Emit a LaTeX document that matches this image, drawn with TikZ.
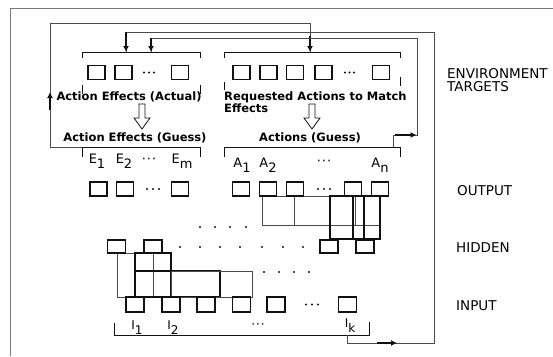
\documentclass[tikz,border=0pt]{standalone}
\usepackage{fontspec}
\setmainfont{DejaVu Sans}
\usetikzlibrary{arrows.meta,positioning,calc,decorations.markings}
\definecolor{plotInk}{HTML}{111111}
\definecolor{plotGrey}{HTML}{4A4A4A}
\definecolor{plotFrame}{HTML}{7A7A7A}
\newcommand{\lsub}[1]{\raisebox{-0.42em}{#1}}
\newcommand{\feedtip}[1]{\draw[line width=1.8pt,plotInk,-{Latex[length=6pt,width=6pt]}] (-#1,0) -- (0,0);}

\begin{document}
\begin{tikzpicture}[x=1pt,y=-1pt,
  unit/.style={draw=plotInk,line width=1.4pt,minimum width=17pt,minimum height=14pt,inner sep=0pt},
  lbl/.style={font=\bfseries\fontsize{11.5}{9}\selectfont,inner sep=0pt},
  sym/.style={font=\fontsize{13}{13}\selectfont,inner sep=0pt,anchor=base},
  side/.style={font=\fontsize{13.5}{12.5}\selectfont,inner sep=0pt,anchor=west,align=left},
  brk/.style={draw=plotInk,line width=0.8pt},
  wire/.style={draw=plotGrey,line width=0.8pt},
  field/.style={draw=plotGrey,line width=0.8pt},
  fieldb/.style={draw=plotInk,line width=1.3pt},
  blip/.style={circle,fill=plotInk,inner sep=0pt,minimum size=2.2pt},
  feed/.style n args={3}{postaction={decorate,decoration={markings,
      mark=at position #1 with {\feedtip{#2}},
      mark=at position 1 with {\feedtip{#3}}}}},
  hollowdown/.pic={\draw[plotInk,line width=0.8pt,fill=white]
      (-3,0) -- (3,0) -- (3,14) -- (8,14) -- (0,25) -- (-8,14) -- (-3,14) -- cycle;}]
\useasboundingbox (0,0) rectangle (553,356);

% frame
\draw[draw=plotFrame,line width=0.8pt] (553,8) -- (10,8) -- (10,356);

% environment targets
\foreach \n/\x in {1/96.5,2/123.5,m/180}
  \node[unit] (ea\n) at (\x,72.5) {};
\foreach \n/\x in {1/241.5,2/268.5,3/295,4/323.5,n/381}
  \node[unit] (ra\n) at (\x,72.5) {};
\foreach \x [count=\i] in {144,149,154}
  \node[blip] (eaDot\i) at (\x,72.5) {};
\foreach \x [count=\i] in {345,349.5,354}
  \node[blip] (raDot\i) at (\x,72.5) {};
\draw[brk] (82,58) -- (82,52) -- (200,52) -- (200,58) (82,85) -- (82,94) (200,85) -- (200,94);
\draw[brk] (224,58) -- (224,52) -- (400,52) -- (400,58) (224,82) -- (224,90) (400,77) -- (400,86);
\node[lbl] (eaLbl) at (129,97) {Action Effects (Actual)};
\node[lbl,anchor=north west,align=left] (raLbl) at (224,92) {Requested Actions to Match\\[-1pt]Effects};
\pic at (142,104) {hollowdown};
\pic at (312,104) {hollowdown};
\node[lbl] (egLbl) at (135,138) {Action Effects (Guess)};
\node[lbl] (agLbl) at (310,138) {Actions (Guess)};
\draw[brk] (82,157) -- (82,147) -- (200,147) -- (200,157);
\draw[brk] (224,157) -- (224,147) -- (400,147) -- (400,157);

% output symbols
\node[sym] (lE1) at (97,163) {E\lsub{1}};
\node[sym] (lE2) at (124,163) {E\lsub{2}};
\node[sym] (lEd) at (149,163) {·\kern1pt·\kern1pt·};
\node[sym] (lEm) at (182,163) {E\lsub{m}};
\node[sym] (lA1) at (242,167) {A\lsub{1}};
\node[sym] (lA2) at (268,167) {A\lsub{2}};
\node[sym] (lAd) at (324,165) {·\kern1pt·\kern1pt·};
\node[sym] (lAn) at (380,167) {A\lsub{n}};

% receptive fields
\draw[field] (262,196) rectangle (355,225);
\draw[field] (294,196) rectangle (380,225);
\draw[fieldb] (330,196) rectangle (364,239);
\draw[fieldb] (353,196) rectangle (380,239);
\draw[field] (117,253) rectangle (153,297);
\draw[fieldb] (135,253) rectangle (171,297);
\draw[fieldb] (135,271) rectangle (220,297);
\draw[field] (171,271) rectangle (252,297);

% output layer
\foreach \n/\x in {e1/98.5,e2/125,em/180,a1/241,a2/268,a3/295,a4/353,an/380}
  \node[unit] (out\n) at (\x,189) {};
\foreach \x [count=\i] in {147,153,159,318,324,330}
  \node[blip] (outDot\i) at (\x,189) {};

% hidden layer
\foreach \n/\x in {1/116.5,2/153,3/329,4/365}
  \node[unit,minimum width=18pt,minimum height=13pt] (hid\n) at (\x,246.5) {};
\foreach \x [count=\i] in {180,200,220,240,262,283,303}
  \node[blip] (hidDot\i) at (\x,247) {};
\foreach \x [count=\i] in {200,215,230,246}
  \node[blip] (upDot\i) at (\x,227) {};
\foreach \x [count=\i] in {264,279,294,309}
  \node[blip] (loDot\i) at (\x,272) {};

% input layer
\foreach \n/\x in {1/135,2/171,3/206,4/241.5,5/276,k/347.5}
  \node[unit,minimum width=18pt,minimum height=15pt] (in\n) at (\x,304.5) {};
\foreach \x [count=\i] in {306,312,318}
  \node[blip] (inDot\i) at (\x,304.5) {};
\node[sym,font=\fontsize{12}{12}\selectfont] (lI1) at (137,329) {I\lsub{1}};
\node[sym,font=\fontsize{12}{12}\selectfont] (lI2) at (173,329) {I\lsub{2}};
\node[sym,font=\fontsize{12}{12}\selectfont] (lId) at (258,328) {·\kern1pt·\kern1pt·};
\node[sym,font=\fontsize{12}{12}\selectfont] (lIk) at (350,327) {I\lsub{k}};
\draw[brk] (114,323) -- (114,335) -- (369,335) -- (369,322);

% side labels
\node[side] (envLbl) at (447,80) {ENVIRONMENT\\TARGETS};
\node[side] (outLbl) at (457,191) {OUTPUT};
\node[side] (hidLbl) at (456,248) {HIDDEN};
\node[side] (inLbl) at (456,306) {INPUT};

% feedback wires
\coordinate (egL) at (82,147);
\coordinate (loopL) at (50,23);
\coordinate (raTop) at (310,52);
\draw[wire,feed={87pt}{18pt}{16pt}] (egL) -| (loopL) -| (raTop);

\coordinate (agR) at (393,147);
\coordinate (agStep) at (417,135);
\coordinate (rimIn) at (417,38);
\coordinate (eaB) at (151,52);
\draw[wire,feed={35.5pt}{22pt}{14pt}] (agR) |- (agStep) -- (rimIn) -| (eaB);

\coordinate (inTap) at (347,335);
\coordinate (rimLo) at (434,343);
\coordinate (rimHi) at (434,32);
\coordinate (eaA) at (126,52);
\draw[wire,feed={58pt}{20pt}{20pt}] (inTap) |- (rimLo) -- (rimHi) -| (eaA);
\end{tikzpicture}
\end{document}
